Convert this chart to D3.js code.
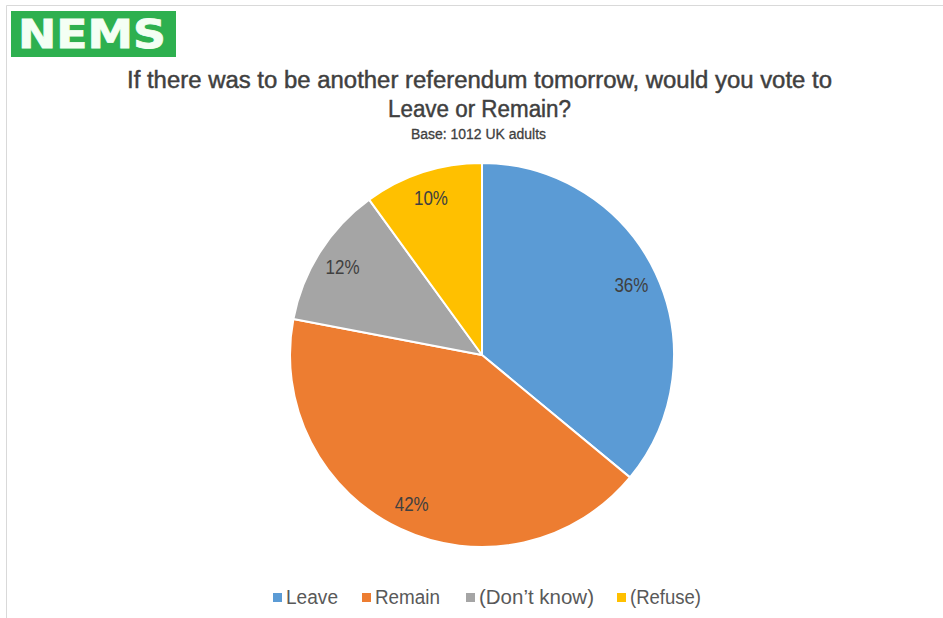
<!DOCTYPE html>
<html>
<head>
<meta charset="utf-8">
<script src="https://cdn.jsdelivr.net/npm/d3@7"></script>
<style>
  html, body { margin: 0; padding: 0; background: #fff; }
  svg { display: block; }
</style>
</head>
<body>
<svg id="chart" width="943" height="618"></svg>
<script>
const categories = ["Leave", "Remain", "(Don\u2019t know)", "(Refuse)"];
const values = [36, 42, 12, 10];
const labels = ["36%", "42%", "12%", "10%"];
const colors = ["#5b9bd5", "#ed7d31", "#a5a5a5", "#ffc000"];
const titleLines = ["If there was to be another referendum tomorrow, would you vote to", "Leave or Remain?"];
const subtitle = "Base: 1012 UK adults";

const svg = d3.select("#chart");
const W = 943, H = 618;
const narrow = "'Liberation Sans Narrow', 'Arial Narrow', 'Liberation Sans', Arial, sans-serif";

// frame
svg.append("path")
  .attr("d", `M6.5,${H} L6.5,5.5 L${W},5.5`)
  .attr("fill", "none").attr("stroke", "#d9d9d9").attr("stroke-width", 1);

// logo
svg.append("rect").attr("x", 11).attr("y", 11).attr("width", 165).attr("height", 46).attr("fill", "#2eb04f");
svg.append("text").attr("x", 92).attr("y", 48).attr("text-anchor", "middle")
  .attr("font-family", "'DejaVu Sans', Arial, sans-serif").attr("font-weight", "bold")
  .attr("font-size", 39).attr("fill", "#f4fff4")
  .attr("stroke", "#f4fff4").attr("stroke-width", 0.8)
  .attr("textLength", 148).attr("lengthAdjust", "spacingAndGlyphs")
  .text("NEMS");

// titles
const titleSpec = [
  { t: titleLines[0], y: 88, w: 705, size: 23 },
  { t: titleLines[1], y: 117, w: 183, size: 23 }
];
titleSpec.forEach(s => {
  svg.append("text").attr("x", 479.5).attr("y", s.y).attr("text-anchor", "middle")
    .attr("font-family", narrow).attr("font-weight", "normal")
    .attr("font-size", s.size).attr("fill", "#404040")
    .attr("stroke", "#404040").attr("stroke-width", 0.45)
    .attr("textLength", s.w).attr("lengthAdjust", "spacingAndGlyphs")
    .text(s.t);
});
svg.append("text").attr("x", 478.5).attr("y", 139).attr("text-anchor", "middle")
  .attr("font-family", narrow).attr("font-weight", "normal")
  .attr("font-size", 14).attr("fill", "#404040")
  .attr("stroke", "#404040").attr("stroke-width", 0.3)
  .attr("textLength", 135).attr("lengthAdjust", "spacingAndGlyphs")
  .text(subtitle);

// pie
const cx = 482, cy = 355, r = 192;
const data = categories.map((c, i) => ({ c, v: values[i], label: labels[i], color: colors[i] }));
const pie = d3.pie().value(d => d.v).sort(null);
const arcs = pie(data);
const arc = d3.arc().innerRadius(0).outerRadius(r);
const labelArc = d3.arc().innerRadius(r * 0.86).outerRadius(r * 0.86);

const g = svg.append("g").attr("transform", `translate(${cx},${cy})`);
g.selectAll("path.slice").data(arcs).enter().append("path")
  .attr("class", "slice")
  .attr("d", arc)
  .attr("fill", d => d.data.color)
  .attr("stroke", "#fff").attr("stroke-width", 2).attr("stroke-linejoin", "round");

g.selectAll("text.lbl").data(arcs).enter().append("text")
  .attr("class", "lbl")
  .attr("transform", d => `translate(${labelArc.centroid(d)})`)
  .attr("text-anchor", "middle").attr("dy", "0.35em")
  .attr("font-family", narrow).attr("font-size", 20).attr("fill", "#404040")
  .attr("textLength", 34).attr("lengthAdjust", "spacingAndGlyphs")
  .text(d => d.data.label);

// legend
const legendX = [273, 362, 466, 617];
const legendW = [52, 65, 115, 71];
const lg = svg.append("g");
data.forEach((d, i) => {
  lg.append("rect").attr("x", legendX[i]).attr("y", 593).attr("width", 9).attr("height", 9).attr("fill", d.color);
  lg.append("text").attr("x", legendX[i] + 13).attr("y", 604)
    .attr("font-family", narrow).attr("font-size", 20).attr("fill", "#595959")
    .attr("textLength", legendW[i]).attr("lengthAdjust", "spacingAndGlyphs")
    .text(d.c);
});
</script>
</body>
</html>
